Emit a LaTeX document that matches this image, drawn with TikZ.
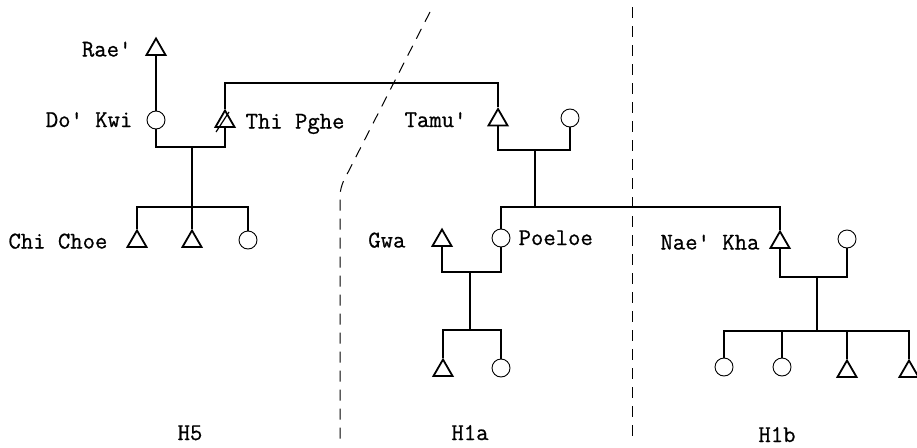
\documentclass[tikz,border=0pt]{standalone}
\usepackage{fontspec}
\usetikzlibrary{positioning,shapes.geometric}

\newfontfamily\kinfont{Latin Modern Mono}[FakeBold=0.8]

\begin{document}
\begin{tikzpicture}[x=1pt,y=-1pt,
  male node/.style={regular polygon,regular polygon sides=3,draw,line width=1.8pt,inner sep=0pt,minimum size=22pt},
  female node/.style={circle,draw,line width=0.9pt,inner sep=0pt,minimum size=18pt},
  kin label/.style={font=\fontsize{24}{26}\selectfont\kinfont,inner sep=0pt,text height=14pt,text depth=0pt},
  tie/.style={line width=1.3pt},
  divider/.style={line width=1pt,dash pattern=on 11pt off 8pt}]

  \useasboundingbox (0,0) rectangle (917,447);

  % H5
  \node[male node] (rae) at (156,49.5) {};
  \node[female node] (dokwi) at (156,120) {};
  \node[male node] (thipghe) at (225,121.5) {};
  \node[male node] (c1) at (137,241.5) {};
  \node[male node] (c2) at (192,241.5) {};
  \node[female node] (c3) at (248,240) {};

  \node[kin label] [left=17pt of rae] {Rae'};
  \node[kin label] [left=14pt of dokwi] {Do' Kwi};
  \node[kin label] [right=13pt of thipghe] {Thi Pghe};
  \node[kin label] [left=22pt of c1] {Chi Choe};

  % H1a
  \node[male node] (tamu) at (498,120) {};
  \node[female node] (tamuw) at (570,118) {};
  \node[male node] (gwa) at (442,240.5) {};
  \node[female node] (poeloe) at (501,238) {};
  \node[male node] (g1) at (443,370.5) {};
  \node[female node] (g2) at (501,368) {};

  \node[kin label] [left=24pt of tamu] {Tamu'};
  \node[kin label] [left=29pt of gwa] {Gwa};
  \node[kin label] [right=8pt of poeloe] {Poeloe};

  % H1b
  \node[male node] (naekha) at (780,242.5) {};
  \node[female node] (naew) at (847,239) {};
  \node[female node] (n1) at (724,367) {};
  \node[female node] (n2) at (782,367) {};
  \node[male node] (n3) at (847,371.5) {};
  \node[male node] (n4) at (909,371.5) {};

  \node[kin label] [left=13pt of naekha] {Nae' Kha};

  % junctions
  \coordinate (m1) at (192,147);
  \coordinate (s1) at (192,207);
  \coordinate (link) at (360,83);
  \coordinate (m2) at (535,150);
  \coordinate (s2) at (535,207);
  \coordinate (m3) at (470,272);
  \coordinate (s3) at (470,330);
  \coordinate (m4) at (817,277);
  \coordinate (s4) at (817,331);

  \draw[tie] (rae) -- (dokwi);
  \draw[tie] (dokwi) |- (m1) -| (thipghe);
  \draw[tie] (m1) -- (c2);
  \draw[tie] (c1) |- (s1) -| (c3);
  \draw[line width=1.2pt] ([shift={(-9,10.5)}]thipghe.center) -- ([shift={(4,-9.5)}]thipghe.center);

  \draw[tie] (thipghe) |- (link) -| (tamu);
  \draw[tie] (tamu) |- (m2) -| (tamuw);
  \draw[tie] (m2) -- (s2);
  \draw[tie] (poeloe) |- (s2) -| (naekha);

  \draw[tie] (gwa) |- (m3) -| (poeloe);
  \draw[tie] (m3) -- (s3);
  \draw[tie] (g1) |- (s3) -| (g2);

  \draw[tie] (naekha) |- (m4) -| (naew);
  \draw[tie] (m4) -- (s4);
  \draw[tie] (n1) |- (s4) -| (n4);
  \draw[tie] (n2) |- (s4);
  \draw[tie] (n3) |- (s4);

  % boundaries
  \draw[divider,rounded corners=8pt] (430,12) -- (340,188) -- (340,440);
  \draw[divider] (632,7) -- (632,440);

  \node[kin label] (h5) at (190,433) {H5};
  \node[kin label] (h1a) at (470,433) {H1a};
  \node[kin label] (h1b) at (777,435) {H1b};

\end{tikzpicture}
\end{document}
